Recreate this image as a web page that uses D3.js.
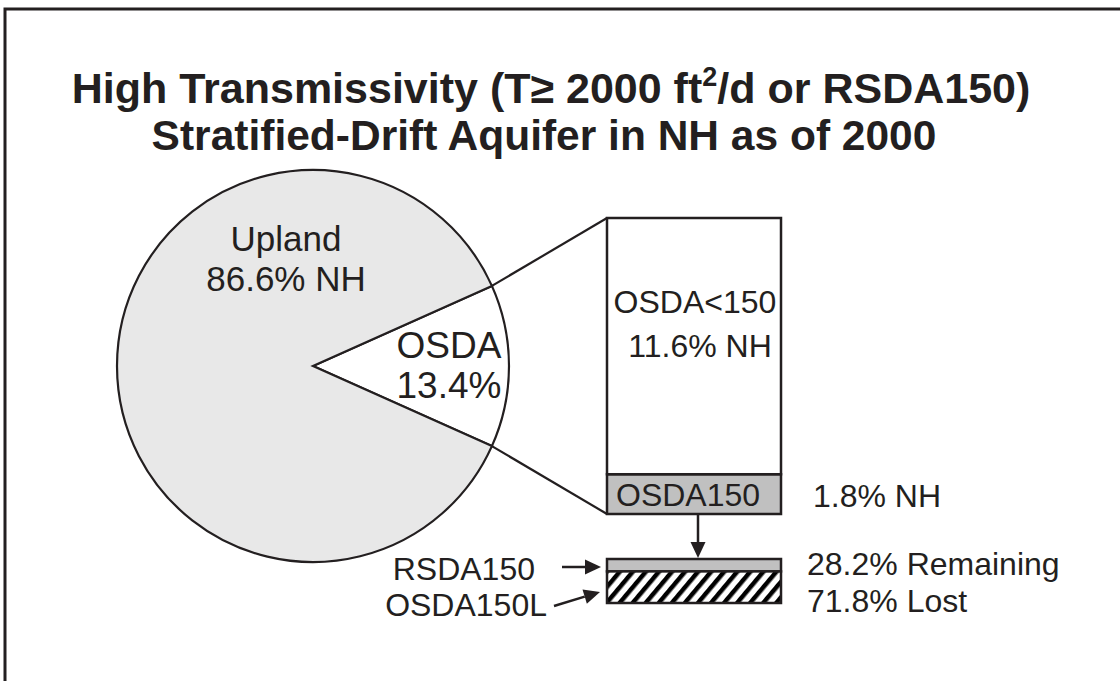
<!DOCTYPE html>
<html>
<head>
<meta charset="utf-8">
<title>High Transmissivity Stratified-Drift Aquifer</title>
<script src="https://d3js.org/d3.v7.min.js"></script>
<style>
  body { margin: 0; background: #fff; }
  svg { display: block; font-family: "Liberation Sans", Arial, sans-serif; }
  .lbl { font-size: 32px; fill: #231f20; }
</style>
</head>
<body>
<svg></svg>
<script>
// data
const pieNames = ["OSDA", "Upland"];
const pieValues = [13.4, 86.6];
const pieText = [["OSDA", "13.4%"], ["Upland", "86.6% NH"]];
const osdaNames = ["OSDA150", "OSDA<150"];
const osdaValues = [1.8, 11.6];
const fateNames = ["RSDA150", "OSDA150L"];
const fateValues = [28.2, 71.8];
const fateNotes = ["28.2% Remaining", "71.8% Lost"];

const W = 1120, H = 681;
const ink = "#231f20";
const cx = 313, cy = 366, r = 196;
const box = {x0: 607, x1: 781, top: 218, bot: 514};
const fate = {top: 559, bot: 603};

const svg = d3.select("svg").attr("width", W).attr("height", H);

const defs = svg.append("defs");
const hatch = defs.append("pattern")
  .attr("id", "hatch")
  .attr("patternUnits", "userSpaceOnUse")
  .attr("width", 10).attr("height", 10)
  .attr("patternTransform", "rotate(40)");
hatch.append("rect").attr("width", 10).attr("height", 10).attr("fill", "#fff");
hatch.append("rect").attr("width", 4.5).attr("height", 10).attr("fill", "#000");

// frame (cut off at right and bottom like the slide)
svg.append("rect")
  .attr("x", 5).attr("y", 9)
  .attr("width", W + 20).attr("height", H + 20)
  .attr("fill", "none").attr("stroke", ink).attr("stroke-width", 3);

// title
const title = svg.append("text")
  .attr("x", 551).attr("y", 103)
  .attr("text-anchor", "middle")
  .attr("font-size", 43).attr("font-weight", "bold").attr("fill", ink);
title.append("tspan").text("High Transmissivity (T\u2265 2000 ft");
title.append("tspan").attr("font-size", 27).attr("dy", -17).text("2");
title.append("tspan").attr("dy", 17).text("/d or RSDA150)");
svg.append("text")
  .attr("x", 544).attr("y", 150)
  .attr("text-anchor", "middle")
  .attr("font-size", 42.5).attr("font-weight", "bold").attr("fill", ink)
  .text("Stratified-Drift Aquifer in NH as of 2000");

// pie, OSDA slice centred on the right
const osdaShare = pieValues[0] / d3.sum(pieValues);
const start = Math.PI / 2 - osdaShare * Math.PI;
const pie = d3.pie().sort(null).startAngle(start).endAngle(start + 2 * Math.PI);
const arc = d3.arc().innerRadius(0).outerRadius(r);
const arcs = pie(pieValues);

const gPie = svg.append("g").attr("transform", `translate(${cx},${cy})`);
gPie.selectAll("path")
  .data(arcs)
  .join("path")
  .attr("d", arc)
  .attr("fill", (d, i) => i === 0 ? "#fff" : "#e8e8e8")
  .attr("stroke", ink)
  .attr("stroke-width", 2.2);

// stacked bar of OSDA parts
const y = d3.scaleLinear().domain([0, d3.sum(osdaValues)]).range([box.bot, box.top]);
const osdaStack = osdaValues.map((v, i) => ({
  name: osdaNames[i], v0: d3.sum(osdaValues.slice(0, i)), v1: d3.sum(osdaValues.slice(0, i + 1))
}));

// connector lines from the slice edges to the box corners
const edge = a => [cx + r * Math.sin(a), cy - r * Math.cos(a)];
const links = [
  [edge(arcs[0].startAngle), [box.x0, box.top]],
  [edge(arcs[0].endAngle), [box.x0, box.bot]]
];
svg.append("g").selectAll("line")
  .data(links)
  .join("line")
  .attr("x1", d => d[0][0]).attr("y1", d => d[0][1])
  .attr("x2", d => d[1][0]).attr("y2", d => d[1][1])
  .attr("stroke", ink).attr("stroke-width", 2.2);

svg.append("g").selectAll("rect")
  .data(osdaStack)
  .join("rect")
  .attr("x", box.x0).attr("width", box.x1 - box.x0)
  .attr("y", d => y(d.v1)).attr("height", d => y(d.v0) - y(d.v1))
  .attr("fill", (d, i) => i === 0 ? "#c0c0c0" : "#fff")
  .attr("stroke", ink).attr("stroke-width", 2.5);

// fate bar of OSDA150
const yf = d3.scaleLinear().domain([0, d3.sum(fateValues)]).range([fate.top, fate.bot]);
const fateStack = fateValues.map((v, i) => ({
  name: fateNames[i], v0: d3.sum(fateValues.slice(0, i)), v1: d3.sum(fateValues.slice(0, i + 1))
}));
svg.append("g").selectAll("rect")
  .data(fateStack)
  .join("rect")
  .attr("x", box.x0).attr("width", box.x1 - box.x0)
  .attr("y", d => yf(d.v0)).attr("height", d => yf(d.v1) - yf(d.v0))
  .attr("fill", (d, i) => i === 0 ? "#c0c0c0" : "url(#hatch)")
  .attr("stroke", ink).attr("stroke-width", 2.5);

// arrows: shaft plus a filled head drawn at the tip
const arrows = [
  [698, box.bot + 1, 698, fate.top - 1],
  [562, 567, 601, 567],
  [554, 606, 600, 592]
];
const headLen = 16, headHalf = 7.5;
const gArrows = svg.append("g");
arrows.forEach(([x1, y1, x2, y2]) => {
  const a = Math.atan2(y2 - y1, x2 - x1);
  const bx = x2 - headLen * Math.cos(a), by = y2 - headLen * Math.sin(a);
  gArrows.append("line")
    .attr("x1", x1).attr("y1", y1).attr("x2", bx).attr("y2", by)
    .attr("stroke", ink).attr("stroke-width", 2.5);
  const px = -Math.sin(a) * headHalf, py = Math.cos(a) * headHalf;
  gArrows.append("path")
    .attr("d", d3.line()([[x2, y2], [bx + px, by + py], [bx - px, by - py]]) + "Z")
    .attr("fill", ink);
});

// labels
const labels = svg.append("g");
const pieLabelPos = [[cx + 136, cy - 8], [cx - 27, cy - 115]];
const pieLabelSize = [37, 35];
pieText.forEach((lines, i) => {
  lines.forEach((t, j) => {
    labels.append("text").attr("class", "lbl")
      .style("font-size", pieLabelSize[i] + "px")
      .attr("x", pieLabelPos[i][0]).attr("y", pieLabelPos[i][1] + j * 39.5)
      .attr("text-anchor", "middle").text(t);
  });
});

const midUpper = (y(osdaStack[1].v0) + y(osdaStack[1].v1)) / 2;
labels.append("text").attr("class", "lbl")
  .attr("x", (box.x0 + box.x1) / 2 + 1).attr("y", midUpper - 33)
  .attr("text-anchor", "middle").text(osdaNames[1]);
labels.append("text").attr("class", "lbl")
  .attr("x", (box.x0 + box.x1) / 2 + 6).attr("y", midUpper + 11)
  .attr("text-anchor", "middle").text(osdaValues[1] + "% NH");

const midLower = (y(osdaStack[0].v0) + y(osdaStack[0].v1)) / 2;
labels.append("text").attr("class", "lbl")
  .attr("x", box.x0 + 9).attr("y", midLower + 12).text(osdaNames[0]);
labels.append("text").attr("class", "lbl")
  .attr("x", box.x1 + 32).attr("y", midLower + 13).text(osdaValues[0] + "% NH");

labels.append("text").attr("class", "lbl")
  .attr("x", box.x1 + 26).attr("y", 575).text(fateNotes[0]);
labels.append("text").attr("class", "lbl")
  .attr("x", box.x1 + 26).attr("y", 612).text(fateNotes[1]);

labels.append("text").attr("class", "lbl")
  .attr("x", 535).attr("y", 580).attr("text-anchor", "end").text(fateNames[0]);
labels.append("text").attr("class", "lbl")
  .attr("x", 547).attr("y", 616).attr("text-anchor", "end").text(fateNames[1]);
</script>
</body>
</html>
